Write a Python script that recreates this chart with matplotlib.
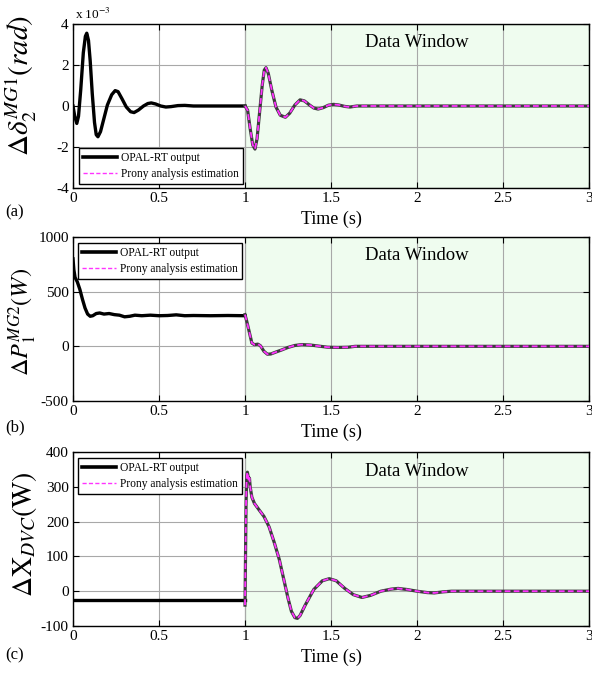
import matplotlib
matplotlib.use("Agg")
import matplotlib.pyplot as plt
import numpy as np

plt.rcParams['font.family'] = ['Liberation Serif', 'DejaVu Serif']
plt.rcParams['mathtext.fontset'] = 'stix'

# ---------------- data ----------------
# Panel (a): delta angle, units of 1e-3 rad
a_t_pre = [0.000, 0.010, 0.022, 0.032, 0.045, 0.060, 0.072, 0.080, 0.090, 0.100,
           0.112, 0.125, 0.135, 0.145, 0.160, 0.180, 0.200, 0.225, 0.245, 0.262,
           0.285, 0.310, 0.335, 0.355, 0.380, 0.410, 0.435, 0.455, 0.480, 0.510,
           0.540, 0.570, 0.610, 0.650, 0.700, 1.000]
a_v_pre = [0.0, -0.5, -0.85, -0.5, 0.8, 2.6, 3.4, 3.55, 3.2, 2.2,
           0.6, -0.8, -1.4, -1.5, -1.25, -0.6, 0.05, 0.55, 0.75, 0.7,
           0.35, -0.05, -0.28, -0.32, -0.2, 0.0, 0.12, 0.15, 0.1, 0.0,
           -0.05, -0.03, 0.02, 0.03, 0.0, 0.0]
a_t_win = [1.000, 1.015, 1.030, 1.045, 1.058, 1.070, 1.085, 1.100, 1.112, 1.122,
           1.135, 1.155, 1.180, 1.205, 1.235, 1.260, 1.290, 1.320, 1.345, 1.375,
           1.400, 1.425, 1.455, 1.485, 1.515, 1.545, 1.580, 1.610, 1.650, 3.000]
a_v_win = [0.0, -0.2, -1.1, -1.9, -2.1, -1.6, -0.3, 1.0, 1.75, 1.87,
           1.6, 0.8, -0.05, -0.45, -0.55, -0.35, 0.05, 0.3, 0.25, 0.05,
           -0.1, -0.15, -0.08, 0.04, 0.08, 0.05, -0.02, -0.05, 0.0, 0.0]

# Panel (b): delta power (W)
b_t_pre = [0.000, 0.005, 0.012, 0.025, 0.040, 0.055, 0.070, 0.085, 0.100, 0.115,
           0.135, 0.155, 0.180, 0.210, 0.240, 0.270, 0.300, 0.330, 0.360, 0.400,
           0.450, 0.500, 0.550, 0.600, 0.650, 0.700, 0.800, 0.900, 1.000]
b_v_pre = [800, 700, 630, 590, 520, 430, 350, 295, 275, 280,
           300, 305, 295, 300, 290, 285, 270, 275, 285, 280,
           285, 280, 282, 288, 280, 282, 280, 282, 280]
b_t_win = [1.000, 1.010, 1.025, 1.040, 1.055, 1.075, 1.090, 1.110, 1.130, 1.150,
           1.180, 1.210, 1.250, 1.290, 1.330, 1.380, 1.430, 1.480, 1.540, 1.600,
           1.640, 3.000]
b_v_win = [290, 230, 130, 30, 15, 20, 5, -45, -72, -70,
           -52, -35, -10, 8, 16, 12, 2, -8, -10, -8,
           0, 0]

# Panel (c): delta X_DVC (W)
c_t_pre = [0.000, 0.999]
c_v_pre = [-25, -25]
c_t_win = [1.000, 1.003, 1.006, 1.010, 1.014, 1.018, 1.022, 1.026, 1.030, 1.040,
           1.055, 1.080, 1.110, 1.140, 1.170, 1.200, 1.225, 1.250, 1.270, 1.290,
           1.305, 1.320, 1.350, 1.400, 1.450, 1.490, 1.530, 1.580, 1.630, 1.680,
           1.730, 1.790, 1.850, 1.890, 1.940, 2.000, 2.060, 2.100, 2.150, 2.200,
           3.000]
c_v_win = [-40, 100, 250, 330, 342, 330, 315, 325, 300, 270,
           252, 235, 215, 185, 140, 90, 35, -20, -58, -76,
           -78, -70, -40, 5, 30, 36, 30, 8, -10, -18,
           -12, 0, 6, 8, 5, 0, -4, -5, -2, 0,
           0]

legend_labels = ['OPAL-RT output', 'Prony analysis estimation']

panels = [
    dict(tp=a_t_pre, vp=a_v_pre, tw=a_t_win, vw=a_v_win, ylim=(-4, 4),
         yticks=[-4, -2, 0, 2, 4], ylabel=r'$\Delta\delta_2^{MG1}(rad)$', tag='(a)',
         rect=[73/592, 1-188/677, 516/592, 164/677], tagy=212, ysize=21, ly=0.625),
    dict(tp=b_t_pre, vp=b_v_pre, tw=b_t_win, vw=b_v_win, ylim=(-500, 1000),
         yticks=[-500, 0, 500, 1000], ylabel=r'$\Delta P_1^{MG2}(W)$', tag='(b)',
         rect=[73/592, 1-401/677, 516/592, 164/677], tagy=427, ysize=17.5, ly=0.48),
    dict(tp=c_t_pre, vp=c_v_pre, tw=c_t_win, vw=c_v_win, ylim=(-100, 400),
         yticks=[-100, 0, 100, 200, 300, 400], ylabel=r'$\Delta\mathrm{X}_{DVC}(\mathrm{W})$', tag='(c)',
         rect=[73/592, 1-626/677, 516/592, 174/677], tagy=655, ysize=20, ly=0.53),
]

fig = plt.figure(figsize=(5.92, 6.77), dpi=100)
mag = '#ff33ff'

for p in panels:
    ax = fig.add_axes(p['rect'])
    ax.axvspan(1, 3, facecolor='#effcef', edgecolor='#6a8a6a', lw=0.8, zorder=0)
    ax.set_xlim(0, 3)
    ax.set_ylim(*p['ylim'])
    ax.set_xticks([0, 0.5, 1, 1.5, 2, 2.5, 3])
    ax.set_xticklabels(['0', '0.5', '1', '1.5', '2', '2.5', '3'])
    ax.set_yticks(p['yticks'])
    ax.set_yticklabels([str(v) for v in p['yticks']])
    ax.grid(True, color='#a8a8a8', lw=0.8, zorder=1)
    ax.set_axisbelow(True)
    ax.tick_params(direction='in', top=True, right=True, length=4, width=0.8,
                   labelsize=11, pad=3)
    for s in ax.spines.values():
        s.set_linewidth(1.0)
        s.set_color('black')
    ax.plot(p['tp'], p['vp'], color='black', lw=2.4, zorder=3, solid_joinstyle='round')
    ax.plot(p['tw'], p['vw'], color='#3c3c3c', lw=2.3, zorder=3, solid_joinstyle='round')
    ax.plot(p['tw'], p['vw'], color=mag, lw=1.3, ls=(0, (3.2, 1.8)), zorder=4)
    h1 = plt.Line2D([], [], color='black', lw=2.6)
    h2 = plt.Line2D([], [], color=mag, lw=1.0, ls=(0, (3, 1.6)))
    common = dict(fontsize=8.3, handlelength=2.9, handletextpad=0.4,
                  borderpad=0.35, labelspacing=0.35, fancybox=False,
                  framealpha=1, edgecolor='black', borderaxespad=0)
    if p['tag'] == '(a)':
        leg = ax.legend([h1, h2], legend_labels, loc='lower left',
                        bbox_to_anchor=(0.012, 0.024), **common)
    else:
        top = 1 - 6 / (p['rect'][3] * 677)
        leg = ax.legend([h1, h2], legend_labels, loc='upper left',
                        bbox_to_anchor=(0.01, top), **common)
    leg.get_frame().set_linewidth(1.0)
    leg.set_zorder(10)
    ax.set_xlabel('Time (s)', fontsize=13)
    ax.xaxis.set_label_coords(0.5, -23 / (p['rect'][3] * 677))
    ax.set_ylabel(p['ylabel'], fontsize=p['ysize'])
    ax.yaxis.set_label_coords(-34 / 516, p['ly'])
    ax.text(2.0, 0.89, 'Data Window', transform=ax.get_xaxis_transform(),
            ha='center', va='center', fontsize=13.5, zorder=6)
    fig.text(5/592, 1 - p['tagy']/677, p['tag'], ha='left', va='center', fontsize=12)

fig.text(75/592, 1 - 14/677, r'x 10$^{-3}$', ha='left', va='center', fontsize=9.5)

fig.savefig('out.png', dpi=100)
